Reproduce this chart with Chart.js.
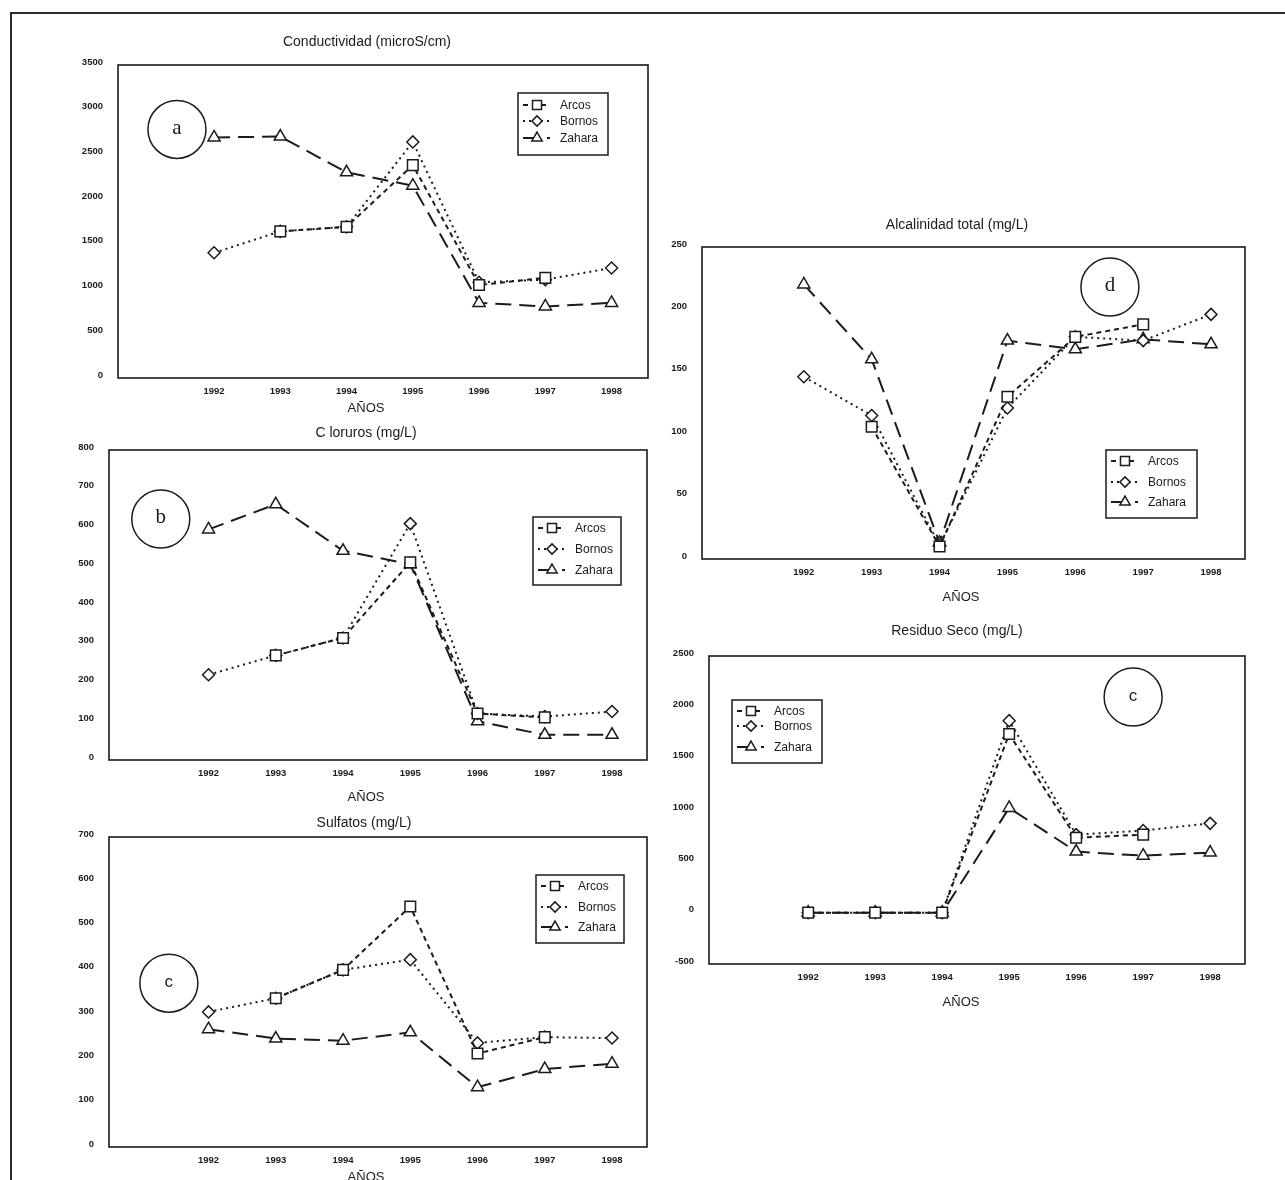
<!DOCTYPE html>
<html>
<head>
<meta charset="utf-8">
<script src="https://cdn.jsdelivr.net/npm/chart.js@4.4.1/dist/chart.umd.min.js"></script>
<style>
  html, body { margin: 0; padding: 0; background: #fff; }
  body { width: 1285px; height: 1180px; position: relative; overflow: hidden; }
  .frame { position: absolute; left: 10px; top: 12px; width: 1300px; height: 1200px;
           border-top: 2px solid #2b2b2b; border-left: 2px solid #2b2b2b; }
  canvas { position: absolute; }
</style>
</head>
<body>
<div class="frame"></div>
<script>
// ---- data -------------------------------------------------------------
const years = [1992, 1993, 1994, 1995, 1996, 1997, 1998];
const seriesNames = ['Arcos', 'Bornos', 'Zahara'];

// Conductividad (microS/cm)
const condArcos  = [null, 1640, 1690, 2380, 1040, 1120, null];
const condBornos = [1400, 1640, 1690, 2640, 1070, 1100, 1230];
const condZahara = [2690, 2700, 2300, 2150, 840, 800, 840];
const condTicks  = [0, 500, 1000, 1500, 2000, 2500, 3000, 3500];

// Cloruros (mg/L)
const cloArcos  = [null, 270, 315, 510, 120, 110, null];
const cloBornos = [220, 270, 315, 610, 120, 112, 125];
const cloZahara = [595, 660, 540, 505, 100, 65, 65];
const cloTicks  = [0, 100, 200, 300, 400, 500, 600, 700, 800];

// Sulfatos (mg/L)
const sulArcos  = [null, 336, 400, 543, 211, 248, null];
const sulBornos = [305, 336, 400, 423, 235, 248, 246];
const sulZahara = [266, 245, 240, 259, 135, 176, 188];
const sulTicks  = [0, 100, 200, 300, 400, 500, 600, 700];

// Alcalinidad total (mg/L)
const alcArcos  = [null, 106, 10, 130, 178, 188, null];
const alcBornos = [146, 115, 11, 121, 178, 175, 196];
const alcZahara = [220, 160, 13, 175, 168, 176, 172];
const alcTicks  = [0, 50, 100, 150, 200, 250];

// Residuo Seco (mg/L)
const resArcos  = [0, 0, 0, 1740, 730, 760, null];
const resBornos = [0, 0, 0, 1870, 760, 800, 870];
const resZahara = [0, 0, 0, 1020, 595, 555, 585];
const resTicks  = [-500, 0, 500, 1000, 1500, 2000, 2500];

// ---- styling ----------------------------------------------------------
const INK = '#1b1b1b';
const SANS = '"Liberation Sans", Arial, sans-serif';
const SERIF = '"Liberation Serif", "Times New Roman", serif';
const seriesStyle = {
  Arcos:  { dash: [5, 4],  point: 'rect',     radius: 7.5 },
  Bornos: { dash: [2, 4],  point: 'rectRot',  radius: 6 },
  Zahara: { dash: [16, 8], point: 'triangle', radius: 7 }
};

// canvas margins around each plot frame
const ML = 80, MT = 45, MR = 20, MB = 60;

function toPoints(vals) {
  return years.map((y, i) => ({ x: y, y: vals[i] }));
}

function makeDataset(name, vals) {
  const s = seriesStyle[name];
  return {
    label: name,
    data: toPoints(vals),
    borderColor: INK,
    borderWidth: 2,
    borderDash: s.dash,
    pointStyle: s.point,
    pointRadius: s.radius,
    pointBorderWidth: 1.5,
    pointBorderColor: INK,
    pointBackgroundColor: '#fff',
    tension: 0,
    spanGaps: false
  };
}

// frame, title, axis caption, circled panel letter and boxed legend
const panelDecor = {
  id: 'panelDecor',
  beforeDatasetsDraw(chart) {
    const { ctx, chartArea: a } = chart;
    ctx.save();
    ctx.strokeStyle = INK;
    ctx.lineWidth = 1.6;
    ctx.setLineDash([]);
    ctx.strokeRect(a.left, a.top, a.right - a.left, a.bottom - a.top);
    ctx.restore();
  },
  afterDraw(chart, args, o) {
    const { ctx, chartArea: a, scales } = chart;
    const ox = o.canvasLeft, oy = o.canvasTop;
    ctx.save();
    ctx.fillStyle = INK;
    ctx.textAlign = 'center';
    ctx.textBaseline = 'middle';
    // title
    ctx.font = '14px ' + SANS;
    ctx.fillText(o.title, o.titleX - ox, o.titleY - oy);
    // axis caption
    ctx.font = '13px ' + SANS;
    ctx.fillText('AÑOS', o.captionX - ox, o.captionY - oy);

    // circled letter placed in data space
    const cx = scales.x.getPixelForValue(o.tag.x);
    const cy = scales.y.getPixelForValue(o.tag.y);
    ctx.strokeStyle = INK;
    ctx.lineWidth = 1.5;
    ctx.beginPath();
    ctx.arc(cx, cy, 29, 0, Math.PI * 2);
    ctx.stroke();
    ctx.font = o.tag.font;
    ctx.fillText(o.tag.text, cx, cy - 1);

    // legend box
    const L = o.legend;
    const lx = L.x - ox, ly = L.y - oy;
    ctx.lineWidth = 1.5;
    ctx.strokeRect(lx, ly, L.w, L.h);
    ctx.textAlign = 'left';
    ctx.font = '12px ' + SANS;
    chart.data.datasets.forEach((ds, i) => {
      const ry = ly + L.rows[i];
      ctx.setLineDash(ds.borderDash);
      ctx.lineWidth = 2;
      ctx.beginPath();
      ctx.moveTo(lx + 5, ry);
      ctx.lineTo(lx + 32, ry);
      ctx.stroke();
      ctx.setLineDash([]);
      ctx.lineWidth = 1.5;
      ctx.fillStyle = '#fff';
      Chart.helpers.drawPoint(ctx, {
        pointStyle: ds.pointStyle, radius: ds.pointRadius * 0.85,
        rotation: 0, borderWidth: 1.5
      }, lx + 19, ry);
      ctx.fillStyle = INK;
      ctx.fillText(ds.label, lx + 42, ry + 1);
    });
    ctx.restore();
  }
};

function buildPanel(p) {
  const canvas = document.createElement('canvas');
  const W = (p.box.right - p.box.left) + ML + MR;
  const H = (p.box.bottom - p.box.top) + MT + MB;
  const left = p.box.left - ML, top = p.box.top - MT;
  canvas.width = W; canvas.height = H;
  canvas.style.left = left + 'px';
  canvas.style.top = top + 'px';
  canvas.style.width = W + 'px';
  canvas.style.height = H + 'px';
  document.body.appendChild(canvas);

  const tickFont = { family: SANS, size: 9.5, weight: 'bold' };
  return new Chart(canvas, {
    type: 'line',
    data: {
      datasets: [
        makeDataset('Arcos', p.arcos),
        makeDataset('Bornos', p.bornos),
        makeDataset('Zahara', p.zahara)
      ]
    },
    options: {
      responsive: false,
      animation: false,
      devicePixelRatio: 1,
      layout: { padding: { top: MT, right: MR, left: 0, bottom: 0 } },
      plugins: {
        legend: { display: false },
        title: { display: false },
        tooltip: { enabled: false },
        panelDecor: Object.assign({ canvasLeft: left, canvasTop: top }, p.decor)
      },
      scales: {
        x: {
          type: 'linear',
          min: p.xMin, max: p.xMax,
          grid: { display: false, drawTicks: false },
          border: { display: false },
          afterBuildTicks: s => { s.ticks = years.map(v => ({ value: v })); },
          afterFit: s => { s.height = MB; },
          ticks: { padding: 8, font: tickFont, color: INK, maxRotation: 0,
                   autoSkip: false, callback: v => String(v) }
        },
        y: {
          type: 'linear',
          min: p.yTicks[0], max: p.yTicks[p.yTicks.length - 1],
          grid: { display: false, drawTicks: false },
          border: { display: false },
          afterBuildTicks: s => { s.ticks = p.yTicks.map(v => ({ value: v })); },
          afterFit: s => { s.width = ML; },
          ticks: { padding: 15, labelOffset: -3, font: tickFont, color: INK,
                   autoSkip: false, callback: v => String(v) }
        }
      }
    },
    plugins: [panelDecor]
  });
}

const serifTag = '21px ' + SERIF;
const sansTag = '17px ' + SANS;

buildPanel({
  box: { left: 118, top: 65, right: 648, bottom: 378 },
  xMin: 1990.55, xMax: 1998.55,
  arcos: condArcos, bornos: condBornos, zahara: condZahara, yTicks: condTicks,
  decor: {
    title: 'Conductividad (microS/cm)', titleX: 367, titleY: 42,
    captionX: 366, captionY: 408,
    tag: { text: 'a', x: 1991.44, y: 2780, font: serifTag },
    legend: { x: 518, y: 93, w: 90, h: 62, rows: [12, 28, 45] }
  }
});

buildPanel({
  box: { left: 109, top: 450, right: 647, bottom: 760 },
  xMin: 1990.52, xMax: 1998.52,
  arcos: cloArcos, bornos: cloBornos, zahara: cloZahara, yTicks: cloTicks,
  decor: {
    title: 'C loruros (mg/L)', titleX: 366, titleY: 433,
    captionX: 366, captionY: 797,
    tag: { text: 'b', x: 1991.29, y: 622, font: serifTag },
    legend: { x: 533, y: 517, w: 88, h: 68, rows: [11, 32, 53] }
  }
});

buildPanel({
  box: { left: 109, top: 837, right: 647, bottom: 1147 },
  xMin: 1990.52, xMax: 1998.52,
  arcos: sulArcos, bornos: sulBornos, zahara: sulZahara, yTicks: sulTicks,
  decor: {
    title: 'Sulfatos (mg/L)', titleX: 364, titleY: 823,
    captionX: 366, captionY: 1177,
    tag: { text: 'c', x: 1991.41, y: 370, font: sansTag },
    legend: { x: 536, y: 875, w: 88, h: 68, rows: [11, 32, 52] }
  }
});

buildPanel({
  box: { left: 702, top: 247, right: 1245, bottom: 559 },
  xMin: 1990.5, xMax: 1998.5,
  arcos: alcArcos, bornos: alcBornos, zahara: alcZahara, yTicks: alcTicks,
  decor: {
    title: 'Alcalinidad total (mg/L)', titleX: 957, titleY: 225,
    captionX: 961, captionY: 597,
    tag: { text: 'd', x: 1996.51, y: 218, font: serifTag },
    legend: { x: 1106, y: 450, w: 91, h: 68, rows: [11, 32, 52] }
  }
});

buildPanel({
  box: { left: 709, top: 656, right: 1245, bottom: 964 },
  xMin: 1990.52, xMax: 1998.52,
  arcos: resArcos, bornos: resBornos, zahara: resZahara, yTicks: resTicks,
  decor: {
    title: 'Residuo Seco (mg/L)', titleX: 957, titleY: 631,
    captionX: 961, captionY: 1002,
    tag: { text: 'c', x: 1996.85, y: 2100, font: sansTag },
    legend: { x: 732, y: 700, w: 90, h: 63, rows: [11, 26, 47] }
  }
});
</script>
</body>
</html>
